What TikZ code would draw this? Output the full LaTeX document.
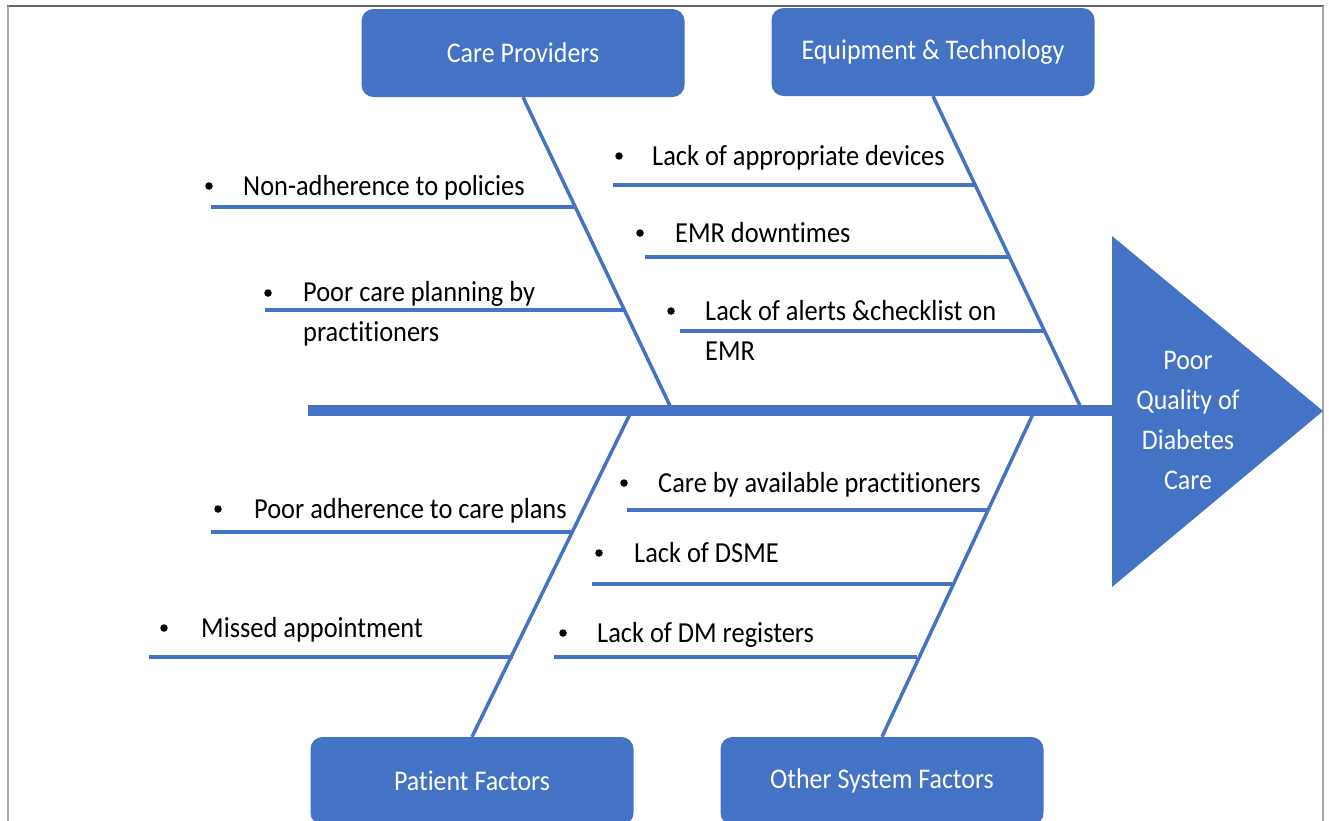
\documentclass[tikz,border=0pt]{standalone}
\usepackage{fontspec}
\setmainfont{Carlito}[FakeStretch=0.91, Ligatures=CommonOff]
\definecolor{fbblue}{HTML}{4472C4}
\begin{document}
\begin{tikzpicture}[x=1pt,y=-1pt,
  catbox/.style={fill=fbblue, rounded corners=12pt, minimum width=323pt,
    minimum height=88pt, text=white, inner sep=0pt,
    font=\fontsize{28.5}{34}\selectfont},
  bone/.style={draw=fbblue, line width=3.5pt},
  rib/.style={draw=fbblue, line width=4.2pt},
  cause/.style={anchor=base west, inner sep=0pt, align=left,
    font=\fontsize{29}{40}\selectfont},
  bulletmark/.style={circle, fill=black, inner sep=0pt, minimum size=7.5pt}]

\useasboundingbox (0,0) rectangle (1329,820);
\clip (0,0) rectangle (1329,820);

% frame
\draw[gray!80!black, line width=2pt] (7,6) -- (1324,6);
\draw[gray!70, line width=2pt] (8,6) -- (8,822) (1323,6) -- (1323,822);

% head of the fish
\fill[fbblue] (1112,236) -- (1323,411) -- (1112,587) -- cycle;
\node[text=white, align=center, inner sep=0pt,
  font=\fontsize{28.5}{40}\selectfont] (effect) at (1188,420)
  {Poor\\Quality of\\Diabetes\\Care};

% spine
\coordinate (tail) at (308,410);
\coordinate (neck) at (1114,410);
\draw[fbblue, line width=11pt] (tail) -- (neck);

% category boxes
\node[catbox] (cp) at (523,53) {Care Providers};
\node[catbox] (et) at (933,52) {Equipment \& Technology};
\node[catbox] (pf) at (472,781) {Patient Factors};
\node[catbox] (os) at (882,781) {Other System Factors};

% main bones
\coordinate (cpS) at (672,410);
\coordinate (etS) at (1082,410);
\coordinate (pfS) at (630,414);
\coordinate (osS) at (1033,414);
\draw[bone] (cp.south) -- (cpS);
\draw[bone] (et.south) -- (etS);
\draw[bone] (pf.north) -- (pfS);
\draw[bone] (os.north) -- (osS);

% causes: Care Providers
\coordinate (r1a) at (211,207); \coordinate (r1b) at (576,207);
\draw[rib] (r1a) -- (r1b);
\node[bulletmark] (d1) at (209,186) {};
\node[cause] (t1) at (243,195) {Non-adherence to policies};

\coordinate (r2a) at (265,310); \coordinate (r2b) at (625,310);
\draw[rib] (r2a) -- (r2b);
\node[bulletmark] (d2) at (268,293) {};
% base anchor of a two-line node sits on its last line
\node[cause] (t2) at (303,341) {Poor care planning by\\practitioners};

% causes: Equipment & Technology
\coordinate (r3a) at (613,185); \coordinate (r3b) at (974,185);
\draw[rib] (r3a) -- (r3b);
\node[bulletmark] (d3) at (619,156) {};
\node[cause] (t3) at (652,165) {Lack of appropriate devices};

\coordinate (r4a) at (645,257); \coordinate (r4b) at (1009,257);
\draw[rib] (r4a) -- (r4b);
\node[bulletmark] (d4) at (640,233) {};
\node[cause] (t4) at (675,242) {EMR downtimes};

\coordinate (r5a) at (680,331); \coordinate (r5b) at (1044,331);
\draw[rib] (r5a) -- (r5b);
\node[bulletmark] (d5) at (671,311) {};
\node[cause] (t5) at (705,360) {Lack of alerts \&checklist on\\EMR};

% causes: Patient Factors
\coordinate (r6a) at (211,532); \coordinate (r6b) at (573,532);
\draw[rib] (r6a) -- (r6b);
\node[bulletmark] (d6) at (218,509) {};
\node[cause] (t6) at (254,518) {Poor adherence to care plans};

\coordinate (r7a) at (149,657); \coordinate (r7b) at (513,657);
\draw[rib] (r7a) -- (r7b);
\node[bulletmark] (d7) at (164,628) {};
\node[cause] (t7) at (201,637) {Missed appointment};

% causes: Other System Factors
\coordinate (r8a) at (627,510); \coordinate (r8b) at (988,510);
\draw[rib] (r8a) -- (r8b);
\node[bulletmark] (d8) at (624,483) {};
\node[cause] (t8) at (658,492) {Care by available practitioners};

\coordinate (r9a) at (592,584); \coordinate (r9b) at (952,584);
\draw[rib] (r9a) -- (r9b);
\node[bulletmark] (d9) at (599,553) {};
\node[cause] (t9) at (634,562) {Lack of DSME};

\coordinate (r10a) at (554,657); \coordinate (r10b) at (917,657);
\draw[rib] (r10a) -- (r10b);
\node[bulletmark] (d10) at (563,633) {};
\node[cause] (t10) at (597,642) {Lack of DM registers};
\end{tikzpicture}
\end{document}
